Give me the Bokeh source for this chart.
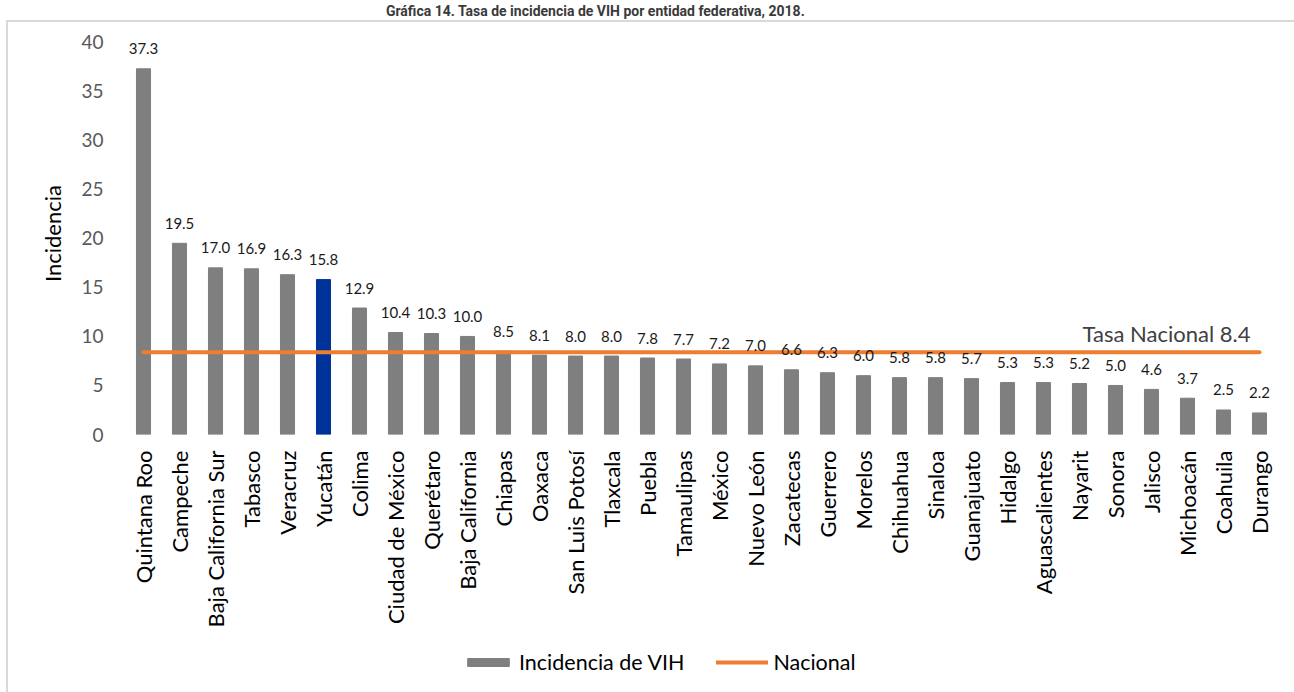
import math
from bokeh.plotting import figure
from bokeh.layouts import column
from bokeh.models import (ColumnDataSource, FactorRange, Range1d, FixedTicker,
                          Label, Legend, LegendItem)
from bokeh.core.properties import value
from bokeh.embed import file_html
from bokeh.resources import INLINE

# Tasa de incidencia de VIH por entidad federativa, 2018
entidades = [
    "Quintana Roo", "Campeche", "Baja California Sur", "Tabasco", "Veracruz",
    "Yucatán", "Colima", "Ciudad de México", "Querétaro", "Baja California",
    "Chiapas", "Oaxaca", "San Luis Potosí", "Tlaxcala", "Puebla", "Tamaulipas",
    "México", "Nuevo León", "Zacatecas", "Guerrero", "Morelos", "Chihuahua",
    "Sinaloa", "Guanajuato", "Hidalgo", "Aguascalientes", "Nayarit", "Sonora",
    "Jalisco", "Michoacán", "Coahuila", "Durango",
]
incidencia = [
    37.3, 19.5, 17.0, 16.9, 16.3, 15.8, 12.9, 10.4, 10.3, 10.0,
    8.5, 8.1, 8.0, 8.0, 7.8, 7.7, 7.2, 7.0, 6.6, 6.3, 6.0, 5.8,
    5.8, 5.7, 5.3, 5.3, 5.2, 5.0, 4.6, 3.7, 2.5, 2.2,
]
tasa_nacional = 8.4
destacada = "Yucatán"
y_ticks = [0, 5, 10, 15, 20, 25, 30, 35, 40]

titulo = "Gráfica 14. Tasa de incidencia de VIH por entidad federativa, 2018."
serie_barras = "Incidencia de VIH"
serie_linea = "Nacional"

GRIS = "#7f7f7f"
AZUL = "#003399"
NARANJA = "#ed7d31"
FUENTE = "Lato"
BORDE = {"border-left": "2px solid #d9d9d9", "margin-left": "6px"}

colores = [AZUL if e == destacada else GRIS for e in entidades]
etiquetas = [f"{v:.1f}" for v in incidencia]

src = ColumnDataSource(dict(x=entidades, y=incidencia, color=colores,
                            label=etiquetas))

# --- title strip (frames of the column are aligned with the chart frame) ---
cab = figure(width=1294, height=20, toolbar_location=None, output_backend="svg",
             x_axis_type=None, y_axis_type=None, min_border=0,
             x_range=Range1d(0, 1), y_range=Range1d(0, 1),
             outline_line_color=None)
cab.add_layout(Label(x=478, y=10, x_units="screen", y_units="screen",
                     text=titulo, text_align="center",
                     text_baseline="middle", text_font="Roboto",
                     text_font_style="bold", text_font_size="14px",
                     text_color="#3a3a3a"))

# --- main chart --------------------------------------------------------------
p = figure(x_range=FactorRange(*entidades, range_padding=0),
           y_range=Range1d(0, 41),
           frame_width=1150, frame_height=400,
           min_border_left=117, min_border_right=19, min_border_top=10,
           min_border_bottom=210,
           toolbar_location=None, output_backend="svg",
           outline_line_color=None)
p.styles = dict(BORDE, **{"border-top": "2px solid #d9d9d9"})

p.xgrid.grid_line_color = None
p.ygrid.grid_line_color = None

p.vbar(x="x", top="y", width=0.39, color="color", source=src)

p.line(x=[entidades[0], entidades[-1]], y=[tasa_nacional, tasa_nacional],
       line_color=NARANJA, line_width=4, line_cap="round")

p.text(x="x", y="y", text="label", source=src, text_align="center",
       text_baseline="middle", y_offset=-20, text_font=value(FUENTE),
       text_font_size="15px", text_color="#1a1a1a")

p.text(x=[entidades[-1]], y=[tasa_nacional],
       text=[f"Tasa Nacional {tasa_nacional}"], text_align="right",
       text_baseline="middle", x_offset=-9, y_offset=-19,
       text_font=value(FUENTE), text_font_size="22px", text_color="#404040")

# axes
p.yaxis.ticker = FixedTicker(ticks=y_ticks)
p.yaxis.axis_line_color = None
p.yaxis.major_tick_line_color = None
p.yaxis.minor_tick_line_color = None
p.yaxis.major_tick_out = 0
p.yaxis.minor_tick_out = 0
p.yaxis.major_label_standoff = 22
p.yaxis.major_label_text_font = FUENTE
p.yaxis.major_label_text_font_size = "19px"
p.yaxis.major_label_text_color = "#595959"
p.yaxis.axis_label = "Incidencia"
p.yaxis.axis_label_text_font = FUENTE
p.yaxis.axis_label_text_font_style = "normal"
p.yaxis.axis_label_text_font_size = "22px"
p.yaxis.axis_label_text_color = "#000000"
p.yaxis.axis_label_standoff = 12

p.xaxis.axis_line_color = None
p.xaxis.major_tick_line_color = None
p.xaxis.major_tick_out = 0
p.xaxis.major_label_orientation = math.pi / 2
p.xaxis.major_label_standoff = 16
p.xaxis.major_label_text_font = FUENTE
p.xaxis.major_label_text_font_size = "22px"
p.xaxis.major_label_text_color = "#000000"

# --- legend strip ------------------------------------------------------------
# swatch renderers sit outside the strip's visible range; only their legend
# glyphs are shown
pie = figure(width=1286, height=50, toolbar_location=None, output_backend="svg",
             x_axis_type=None, y_axis_type=None, min_border=0,
             x_range=Range1d(0, 1), y_range=Range1d(0, 1),
             outline_line_color=None)
pie.styles = dict(BORDE)
muestra_barra = pie.vbar(x=[0.5], bottom=[-3], top=[-2], width=0.1, color=GRIS)
muestra_linea = pie.line(x=[0.4, 0.6], y=[-2, -2], line_color=NARANJA,
                         line_width=4, line_cap="round")
leyenda = Legend(items=[LegendItem(label=serie_barras, renderers=[muestra_barra]),
                        LegendItem(label=serie_linea, renderers=[muestra_linea])],
                 orientation="horizontal", location=(337, 17),
                 glyph_width=52, glyph_height=10, label_standoff=5,
                 spacing=32, padding=0, margin=0,
                 label_text_font=FUENTE, label_text_font_size="21.5px",
                 label_text_color="#000000", border_line_color=None,
                 background_fill_alpha=0)
pie.add_layout(leyenda, "center")

layout = column(cab, p, pie, spacing=0)
open("out.html", "w").write(file_html(layout, INLINE))
